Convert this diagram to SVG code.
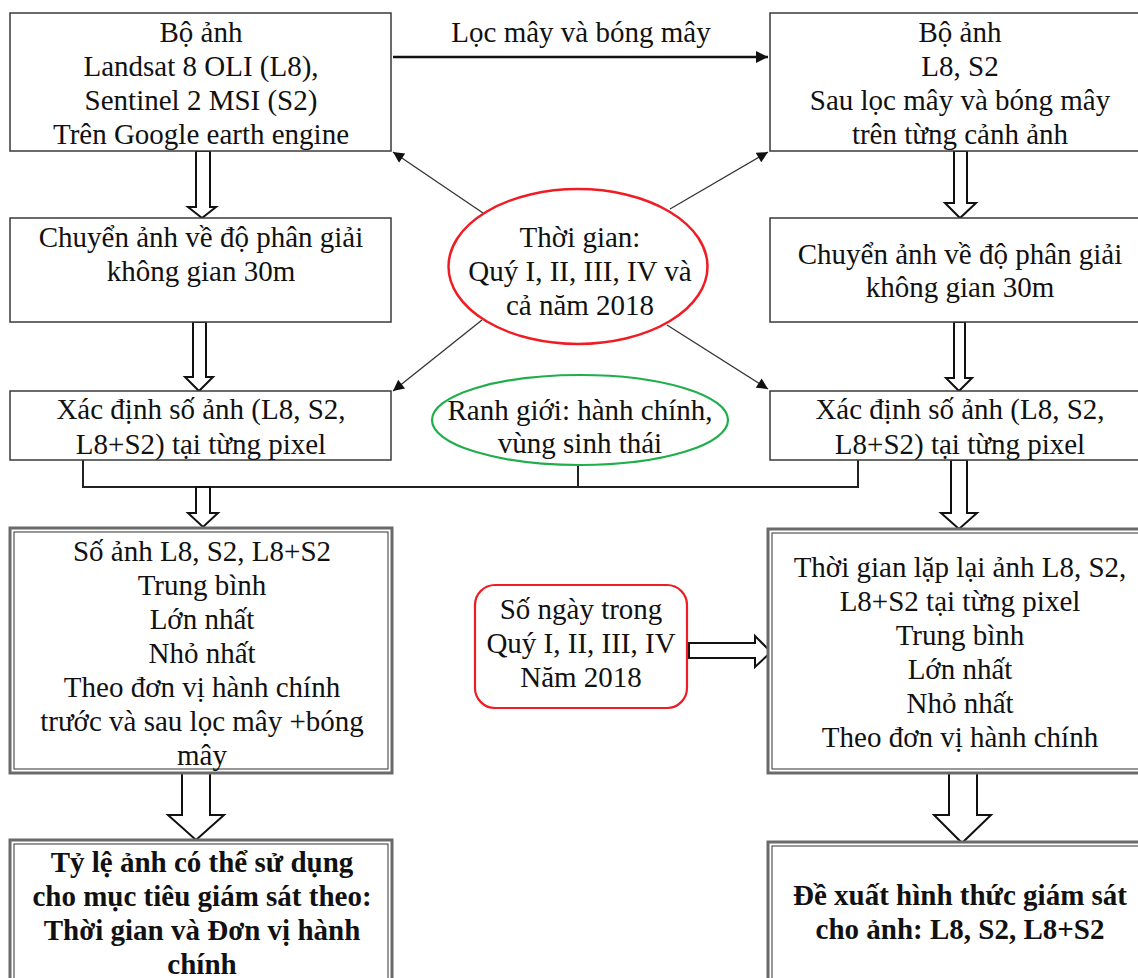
<svg xmlns="http://www.w3.org/2000/svg" width="1138" height="978" viewBox="0 0 1138 978">
<style>
  text { font-family: "Liberation Serif", "Times New Roman", serif; font-size: 29px; fill: #111; text-anchor: middle; }
  .b { font-weight: bold; }
  .box { fill: #fff; stroke: #3a3a3a; stroke-width: 1.5; }
  .dbl-o { fill: #fff; stroke: #6a6a6a; stroke-width: 3; }
  .dbl-i { fill: none; stroke: #333; stroke-width: 1; }
  .blk { fill: #fff; stroke: #111; stroke-width: 2; stroke-linejoin: miter; }
  .thin { fill: none; stroke: #333; stroke-width: 1.3; marker-end: url(#ah); }
  .conn { fill: none; stroke: #222; stroke-width: 2; }
</style>
<defs>
  <marker id="ah" viewBox="0 0 10 10" refX="10" refY="5" markerWidth="13" markerHeight="11" markerUnits="userSpaceOnUse" orient="auto">
    <path d="M0,0 L10,5 L0,10 Z" fill="#111"/>
  </marker>
  <marker id="ah2" viewBox="0 0 10 10" refX="10" refY="5" markerWidth="14" markerHeight="12" markerUnits="userSpaceOnUse" orient="auto">
    <path d="M0,0 L10,5 L0,10 Z" fill="#111"/>
  </marker>
</defs>
<rect width="1138" height="978" fill="#fff"/>

<g id="connectors">
  <line x1="393" y1="57" x2="768" y2="57" stroke="#111" stroke-width="2.5" marker-end="url(#ah2)"/>
  <line class="thin" x1="483" y1="213" x2="393" y2="152"/>
  <line class="thin" x1="670" y1="209" x2="768" y2="152"/>
  <line class="thin" x1="482" y1="320" x2="393" y2="391"/>
  <line class="thin" x1="667" y1="325" x2="768" y2="389"/>
  <path class="conn" d="M83 460 V487 H858 V460 M578 465 V487"/>
  <path class="blk" d="M196 151 H210 V207 H216 L202 218 L188 207 H196 Z"/>
  <path class="blk" d="M193 322 H206 V377 H213 L199 391 L185 377 H193 Z"/>
  <path class="blk" d="M196 487 H210 V513 H218 L203 527 L188 513 H196 Z"/>
  <path class="blk" d="M182 773 H210 V815 H224 L196 840 L168 815 H182 Z"/>
  <path class="blk" d="M954 151 H967 V203 H976 L960 218 L945 203 H954 Z"/>
  <path class="blk" d="M954 322 H965 V378 H972 L959 391 L946 378 H954 Z"/>
  <path class="blk" d="M951 460 H967 V513 H977 L959 529 L941 513 H951 Z"/>
  <path class="blk" d="M949 773 H977 V815 H991 L962 843 L934 815 H949 Z"/>
  <path class="blk" d="M689 643 H755 V636 L771 652 L755 667 V658 H689 Z"/>
</g>

<text id="label-loc" x="581" y="42">Lọc mây và bóng mây</text>

<g id="n-bo-anh-1">
  <rect class="box" x="10" y="13" width="381" height="138"/>
  <text x="201" y="42">Bộ ảnh</text>
  <text x="201" y="76">Landsat 8 OLI (L8),</text>
  <text x="201" y="110">Sentinel 2 MSI (S2)</text>
  <text x="201" y="144">Trên Google earth engine</text>
</g>

<g id="n-bo-anh-2">
  <rect class="box" x="770" y="13" width="380" height="138"/>
  <text x="960" y="42">Bộ ảnh</text>
  <text x="960" y="76">L8, S2</text>
  <text x="960" y="110">Sau lọc mây và bóng mây</text>
  <text x="960" y="144">trên từng cảnh ảnh</text>
</g>

<g id="n-chuyen-1">
  <rect class="box" x="10" y="218" width="381" height="104"/>
  <text x="201" y="247">Chuyển ảnh về độ phân giải</text>
  <text x="201" y="281">không gian 30m</text>
</g>

<g id="n-chuyen-2">
  <rect class="box" x="770" y="218" width="380" height="104"/>
  <text x="960" y="264">Chuyển ảnh về độ phân giải</text>
  <text x="960" y="297">không gian 30m</text>
</g>

<g id="n-thoi-gian">
  <ellipse cx="578" cy="266.5" rx="129.5" ry="77.5" fill="#fff" stroke="#f01c24" stroke-width="2.5"/>
  <text x="580" y="247">Thời gian:</text>
  <text x="580" y="281">Quý I, II, III, IV và</text>
  <text x="580" y="315">cả năm 2018</text>
</g>

<g id="n-xac-dinh-1">
  <rect class="box" x="10" y="391" width="381" height="69"/>
  <text x="201" y="419">Xác định số ảnh (L8, S2,</text>
  <text x="201" y="454">L8+S2) tại từng pixel</text>
</g>

<g id="n-xac-dinh-2">
  <rect class="box" x="770" y="391" width="380" height="69"/>
  <text x="960" y="419">Xác định số ảnh (L8, S2,</text>
  <text x="960" y="454">L8+S2) tại từng pixel</text>
</g>

<g id="n-ranh-gioi">
  <ellipse cx="580" cy="420" rx="148" ry="45" fill="none" stroke="#1fae4b" stroke-width="2.2"/>
  <text x="580" y="420">Ranh giới: hành chính,</text>
  <text x="580" y="453">vùng sinh thái</text>
</g>

<g id="n-so-anh">
  <rect class="dbl-o" x="10" y="528" width="382" height="245"/>
  <rect class="dbl-i" x="14" y="532" width="374" height="237"/>
  <text x="202" y="561">Số ảnh L8, S2, L8+S2</text>
  <text x="202" y="595">Trung bình</text>
  <text x="202" y="629">Lớn nhất</text>
  <text x="202" y="663">Nhỏ nhất</text>
  <text x="202" y="697">Theo đơn vị hành chính</text>
  <text x="202" y="731">trước và sau lọc mây +bóng</text>
  <text x="202" y="765">mây</text>
</g>

<g id="n-so-ngay">
  <rect x="475" y="585" width="212" height="123" rx="20" ry="20" fill="#fff" stroke="#f01c24" stroke-width="2.2"/>
  <text x="581" y="619">Số ngày trong</text>
  <text x="581" y="653">Quý I, II, III, IV</text>
  <text x="581" y="687">Năm 2018</text>
</g>

<g id="n-thoi-gian-lap">
  <rect class="dbl-o" x="768" y="529" width="382" height="244"/>
  <rect class="dbl-i" x="772" y="533" width="374" height="236"/>
  <text x="960" y="577">Thời gian lặp lại ảnh L8, S2,</text>
  <text x="960" y="611">L8+S2 tại từng pixel</text>
  <text x="960" y="645">Trung bình</text>
  <text x="960" y="679">Lớn nhất</text>
  <text x="960" y="713">Nhỏ nhất</text>
  <text x="960" y="747">Theo đơn vị hành chính</text>
</g>

<g id="n-ty-le">
  <rect class="dbl-o" x="10" y="840" width="382" height="160"/>
  <rect class="dbl-i" x="14" y="844" width="374" height="152"/>
  <text class="b" x="202" y="872">Tỷ lệ ảnh có thể sử dụng</text>
  <text class="b" x="202" y="906">cho mục tiêu giám sát theo:</text>
  <text class="b" x="202" y="940">Thời gian và Đơn vị hành</text>
  <text class="b" x="202" y="974">chính</text>
</g>

<g id="n-de-xuat">
  <rect class="dbl-o" x="768" y="842" width="382" height="160"/>
  <rect class="dbl-i" x="772" y="846" width="374" height="152"/>
  <text class="b" x="960" y="905">Đề xuất hình thức giám sát</text>
  <text class="b" x="960" y="939">cho ảnh: L8, S2, L8+S2</text>
</g>
</svg>
